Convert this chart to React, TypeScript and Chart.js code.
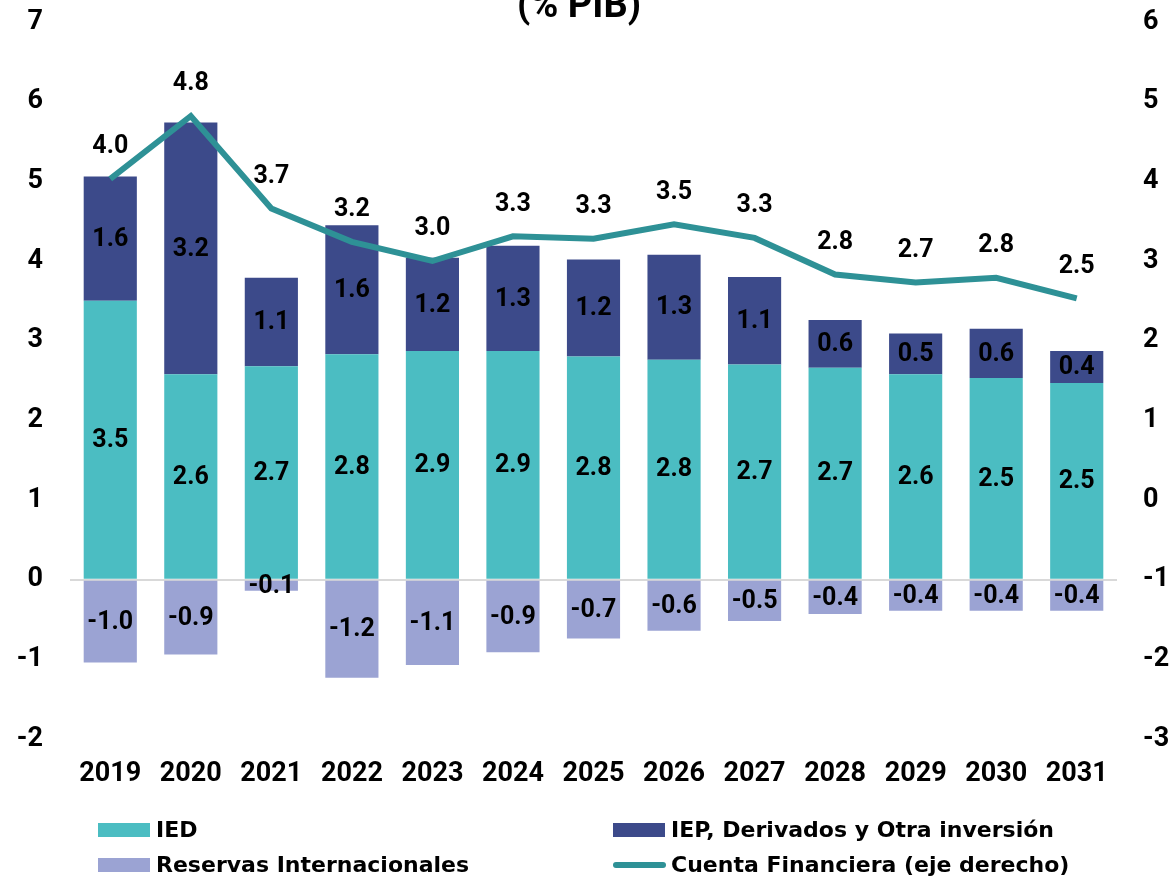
import React, { useEffect, useRef } from "react";
import { Chart, registerables } from "chart.js";

Chart.register(...registerables);

const years = ["2019", "2020", "2021", "2022", "2023", "2024", "2025", "2026", "2027", "2028", "2029", "2030", "2031"];
const ied = [3.5, 2.58, 2.68, 2.83, 2.87, 2.87, 2.8, 2.76, 2.7, 2.66, 2.58, 2.53, 2.47];
const iep = [1.56, 3.16, 1.11, 1.62, 1.17, 1.32, 1.22, 1.32, 1.1, 0.6, 0.51, 0.62, 0.4];
const reservas = [-1.04, -0.94, -0.14, -1.23, -1.07, -0.91, -0.74, -0.64, -0.52, -0.43, -0.39, -0.39, -0.39];
const cuenta = [4.03, 4.82, 3.66, 3.24, 3.0, 3.31, 3.28, 3.46, 3.29, 2.83, 2.73, 2.79, 2.53];

const leftMin = -2;
const leftMax = 7;
const rightMin = -3;
const rightMax = 6;

const titleText = "(% PIB)";
const FONT = "Roboto";
const LEGEND_FONT = "'DejaVu Sans'";

const C_IED = "#4BBDC2";
const C_IEP = "#3C4A8A";
const C_RES = "#9BA3D3";
const C_LINE = "#2E9196";

const valueLabels = {
  id: "valueLabels",
  afterDatasetsDraw(chart: any) {
    const ctx = chart.ctx;
    ctx.save();
    ctx.font = `bold 25px ${FONT}`;
    ctx.fillStyle = "#000";
    ctx.textAlign = "center";
    ctx.textBaseline = "middle";
    chart.data.datasets.forEach((ds: any, i: number) => {
      const meta = chart.getDatasetMeta(i);
      meta.data.forEach((el: any, j: number) => {
        const v = ds.data[j] as number;
        const txt = v.toFixed(1);
        if (meta.type === "bar") {
          const p = el.getProps(["x", "y", "base"], true);
          ctx.fillText(txt, p.x, (p.y + p.base) / 2 + 1);
        } else {
          ctx.fillText(txt, el.x, el.y - 32);
        }
      });
    });
    ctx.restore();
  },
};

const titleAndLegend = {
  id: "titleAndLegend",
  afterDraw(chart: any) {
    const ctx = chart.ctx;
    ctx.save();
    ctx.fillStyle = "#000";
    ctx.font = `bold 38px ${FONT}`;
    ctx.textAlign = "center";
    ctx.textBaseline = "alphabetic";
    ctx.fillText(titleText, 579, 17);

    const ds = chart.data.datasets;
    const slots = [
      { i: 0, x: 98, y: 830 },
      { i: 1, x: 613, y: 830 },
      { i: 2, x: 98, y: 865 },
      { i: 3, x: 613, y: 865 },
    ];
    ctx.font = `bold 22px ${LEGEND_FONT}`;
    ctx.textAlign = "left";
    ctx.textBaseline = "middle";
    slots.forEach((s) => {
      const d = ds[s.i];
      if (d.type === "line") {
        ctx.strokeStyle = d.borderColor;
        ctx.lineWidth = 6;
        ctx.lineCap = "round";
        ctx.beginPath();
        ctx.moveTo(s.x + 3, s.y);
        ctx.lineTo(s.x + 50, s.y);
        ctx.stroke();
      } else {
        ctx.fillStyle = d.backgroundColor;
        ctx.fillRect(s.x, s.y - 7, 52, 14);
      }
      ctx.fillStyle = "#000";
      ctx.fillText(d.label, s.x + 58, s.y + 1);
    });
    ctx.restore();
  },
};

export default function App() {
  const ref = useRef<HTMLCanvasElement | null>(null);

  useEffect(() => {
    document.body.style.margin = "0";
    if (!ref.current) return;
    const tickFont = { family: FONT, size: 27, weight: "bold" as const };
    const chart = new Chart(ref.current, {
      type: "bar",
      data: {
        labels: years,
        datasets: [
          { type: "bar", label: "IED", data: ied, backgroundColor: C_IED, yAxisID: "y", order: 1, stack: "s" },
          { type: "bar", label: "IEP, Derivados y Otra inversión", data: iep, backgroundColor: C_IEP, yAxisID: "y", order: 1, stack: "s" },
          { type: "bar", label: "Reservas Internacionales", data: reservas, backgroundColor: C_RES, yAxisID: "y", order: 1, stack: "s" },
          {
            type: "line",
            label: "Cuenta Financiera (eje derecho)",
            data: cuenta,
            borderColor: C_LINE,
            backgroundColor: C_LINE,
            borderWidth: 6,
            pointRadius: 0,
            tension: 0,
            yAxisID: "y1",
            order: 0,
          } as any,
        ],
      },
      options: {
        animation: false,
        responsive: true,
        maintainAspectRatio: false,
        layout: { autoPadding: false, padding: { top: 22, left: 0, right: 0, bottom: 0 } },
        datasets: { bar: { categoryPercentage: 1, barPercentage: 0.66 } },
        plugins: { legend: { display: false }, tooltip: { enabled: false }, title: { display: false } },
        scales: {
          x: {
            stacked: true,
            grid: { display: false, drawTicks: false },
            border: { display: false },
            ticks: { font: tickFont, color: "#000", padding: 19, maxRotation: 0, autoSkip: false },
            afterFit(s: any) {
              s.height = 140;
              s.paddingLeft = 0;
              s.paddingRight = 0;
            },
          },
          y: {
            stacked: true,
            position: "left",
            min: leftMin,
            max: leftMax,
            grid: {
              drawTicks: false,
              lineWidth: 2,
              color: (c: any) => (c.tick && c.tick.value === 0 ? "#d9d9d9" : "rgba(0,0,0,0)"),
            },
            border: { display: false },
            ticks: { stepSize: 1, font: tickFont, color: "#000", padding: 27 },
            afterFit(s: any) {
              s.width = 70;
              s.paddingTop = 0;
              s.paddingBottom = 0;
            },
          },
          y1: {
            position: "right",
            min: rightMin,
            max: rightMax,
            grid: { display: false, drawTicks: false },
            border: { display: false },
            ticks: { stepSize: 1, font: tickFont, color: "#000", padding: 26 },
            afterFit(s: any) {
              s.width = 56;
              s.paddingTop = 0;
              s.paddingBottom = 0;
            },
          },
        },
      } as any,
      plugins: [valueLabels, titleAndLegend],
    });
    return () => chart.destroy();
  }, []);

  return (
    <div style={{ position: "relative", width: "1173px", height: "879px" }}>
      <canvas ref={ref} />
    </div>
  );
}
